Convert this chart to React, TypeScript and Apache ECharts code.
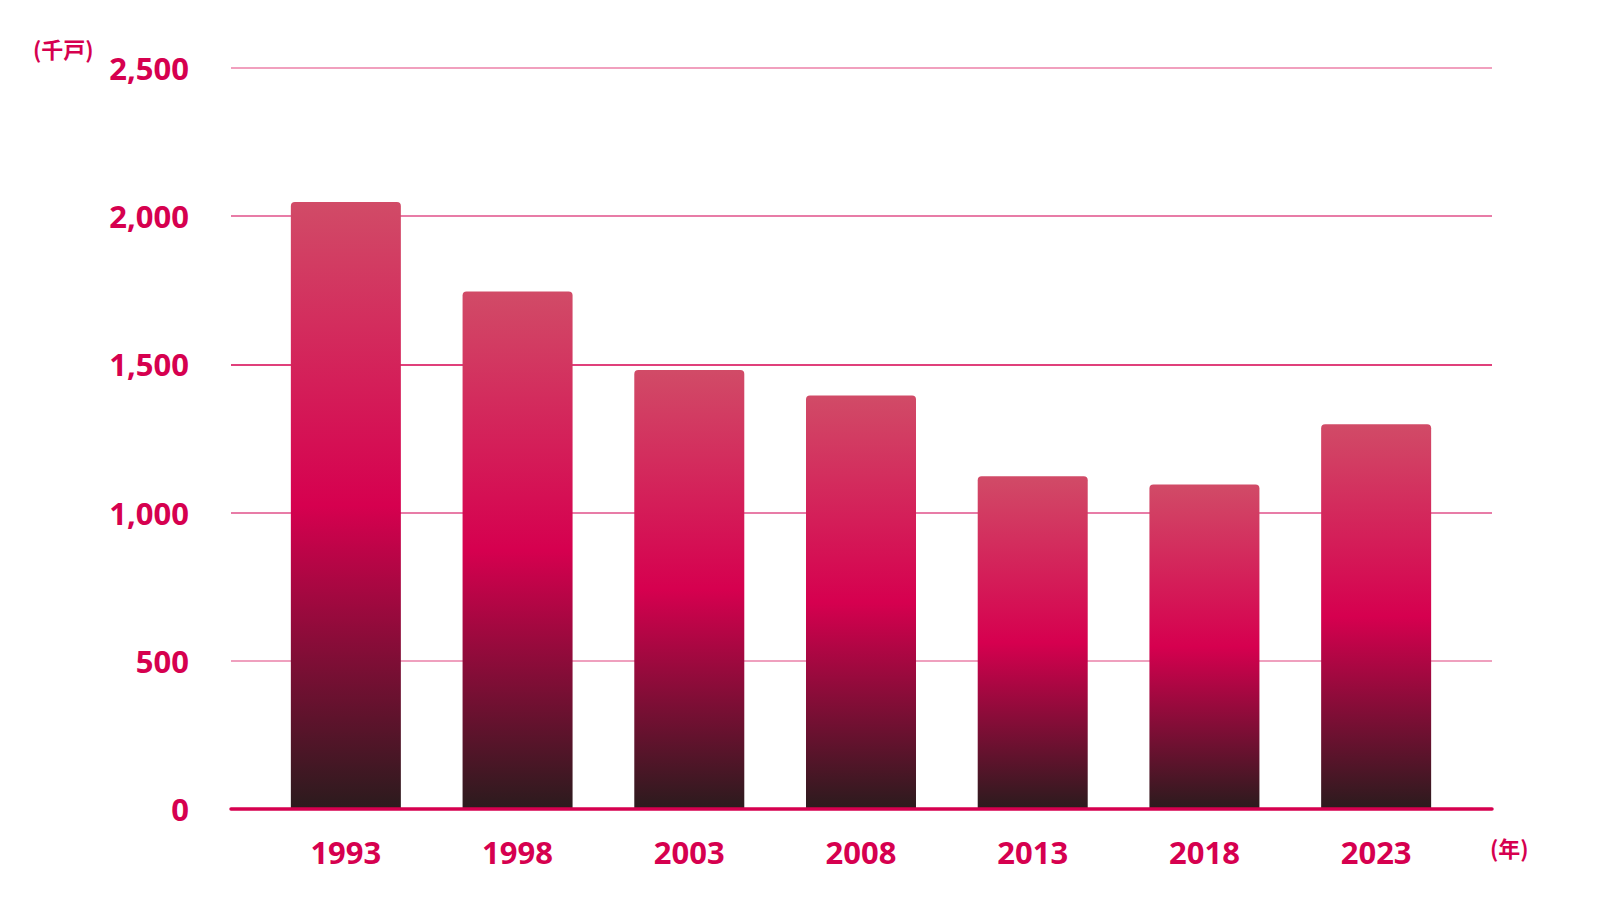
import React, { useEffect, useRef } from "react";
import * as echarts from "echarts";

const categories = ["1993", "1998", "2003", "2008", "2013", "2018", "2023"];
const values = [2048, 1746, 1481, 1395, 1123, 1095, 1298];
const yTicks = [0, 500, 1000, 1500, 2000, 2500];

const MAIN = "#d6004f";
const FONT = "'Noto Sans', 'Noto Sans CJK JP', sans-serif";
const CJK = "'Noto Sans CJK JP', 'Noto Sans', sans-serif";

export default function App() {
  const ref = useRef<HTMLDivElement>(null);
  useEffect(() => {
    if (!ref.current) return;
    const chart = echarts.init(ref.current, undefined, { renderer: "svg" });
    const grad = new echarts.graphic.LinearGradient(0, 0, 0, 1, [
      { offset: 0, color: "#d14b67" },
      { offset: 0.5, color: "#d6004f" },
      { offset: 1, color: "#2b1b1d" },
    ]);
    chart.setOption({
      animation: false,
      backgroundColor: "#ffffff",
      grid: [
        { left: 231, right: 108, top: 68, bottom: 91 },
        { left: 260, right: 138, top: 68, bottom: 91 },
      ],
      xAxis: [
        {
          type: "value",
          gridIndex: 0,
          min: 0,
          max: 1,
          axisLine: { show: true, lineStyle: { color: MAIN, width: 3.5 } },
          axisTick: { show: false },
          axisLabel: { show: false },
          splitLine: { show: false },
          z: 10,
        },
        {
          type: "category",
          gridIndex: 1,
          data: categories,
          axisLine: { show: false },
          axisTick: { show: false },
          axisLabel: {
            color: MAIN,
            fontSize: 31,
            fontWeight: "bold",
            fontFamily: FONT,
            margin: 27,
          },
        },
      ],
      yAxis: [
        {
          type: "value",
          gridIndex: 0,
          min: yTicks[0],
          max: yTicks[yTicks.length - 1],
          interval: 500,
          axisLine: { show: false },
          axisTick: { show: false },
          axisLabel: {
            color: MAIN,
            fontSize: 31,
            fontWeight: "bold",
            fontFamily: FONT,
            margin: 42,
            formatter: (v: number) => v.toLocaleString("en-US"),
          },
          splitLine: {
            show: true,
            lineStyle: {
              width: 1.5,
              color: ["#d6004f", "#ea80a8", "#e0508a", "#d6004f", "#e0508a", "#ec80a8"],
            },
          },
        },
        {
          type: "value",
          gridIndex: 1,
          min: yTicks[0],
          max: yTicks[yTicks.length - 1],
          interval: 500,
          axisLine: { show: false },
          axisTick: { show: false },
          axisLabel: { show: false },
          splitLine: { show: false },
        },
      ],
      series: [
        {
          type: "bar",
          xAxisIndex: 1,
          yAxisIndex: 1,
          data: values,
          barWidth: 110,
          itemStyle: { color: grad, borderRadius: [4, 4, 0, 0] },
          z: 5,
        },
      ],
      graphic: [
        {
          type: "text",
          left: 33,
          top: 37,
          style: {
            text: "(千戸)",
            fill: MAIN,
            font: `bold 22px ${CJK}`,
          },
        },
        {
          type: "text",
          left: 1490,
          top: 836,
          style: {
            text: "(年)",
            fill: MAIN,
            font: `bold 22px ${CJK}`,
          },
        },
      ],
    });
    return () => chart.dispose();
  }, []);
  return (
    <div
      ref={ref}
      style={{ position: "fixed", left: 0, top: 0, width: 1600, height: 900, overflow: "hidden" }}
    />
  );
}
